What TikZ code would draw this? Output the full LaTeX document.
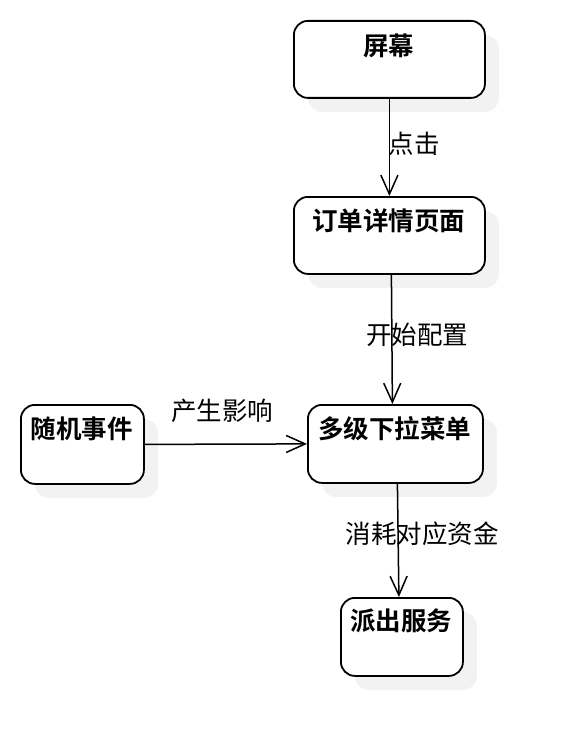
\documentclass[tikz,border=0pt]{standalone}
\usepackage{fontspec}
\newfontfamily\cjk{Noto Sans CJK SC}[BoldFont={Noto Sans CJK SC Bold}]
\usetikzlibrary{arrows.meta,shadows}
\begin{document}
\begin{tikzpicture}[x=1pt,y=-1pt,
  box/.style={draw=black, line width=1.8pt, rounded corners=14pt, fill=white,
    anchor=north west, inner sep=0pt,
    drop shadow={shadow xshift=14pt, shadow yshift=-14pt, fill=black!5, opacity=1}},
  boxtext/.style={font=\cjk\bfseries\fontsize{25.5}{30}\selectfont, inner sep=0pt},
  lbl/.style={font=\cjk\fontsize{25.5}{30}\selectfont, inner sep=0pt},
  conn/.style={draw=black, line width=1.5pt, -{Straight Barb[length=19pt,width=17pt,line width=1.5pt]}}]
\fill[white] (0,0) rectangle (580,754);
\useasboundingbox (0,0) rectangle (580,754);
% boxes
\node[box, minimum width=191pt, minimum height=77pt] (s) at (293,20) {};
\node[box, minimum width=191pt, minimum height=77pt] (o) at (293,196) {};
\node[box, minimum width=175pt, minimum height=78pt] (m) at (307,404) {};
\node[box, minimum width=123pt, minimum height=79pt] (r) at (20,404) {};
\node[box, minimum width=122pt, minimum height=78pt] (p) at (340,597) {};
% box texts
\node[boxtext] (st) at (388.5,46) {屏幕};
\node[boxtext] (ot) at (388.5,221) {订单详情页面};
\node[boxtext] (mt) at (394.5,429) {多级下拉菜单};
\node[boxtext] (rt) at (81.5,429) {随机事件};
\node[boxtext] (pt) at (401,621) {派出服务};
% connectors
\draw[conn] (s.south) -- (o.north);
\draw[conn] ([xshift=2pt]o.south) -- ([xshift=-3pt]m.north);
\draw[conn] (r.east) -- (m.west);
\draw[conn] ([xshift=2pt]m.south) -- ([xshift=-3pt]p.north);
% labels
\node[lbl] (l1) at (414,144) {点击};
\node[lbl] (l2) at (417,335) {开始配置};
\node[lbl] (l3) at (222,411) {产生影响};
\node[lbl] (l4) at (422,534) {消耗对应资金};
\end{tikzpicture}
\end{document}
